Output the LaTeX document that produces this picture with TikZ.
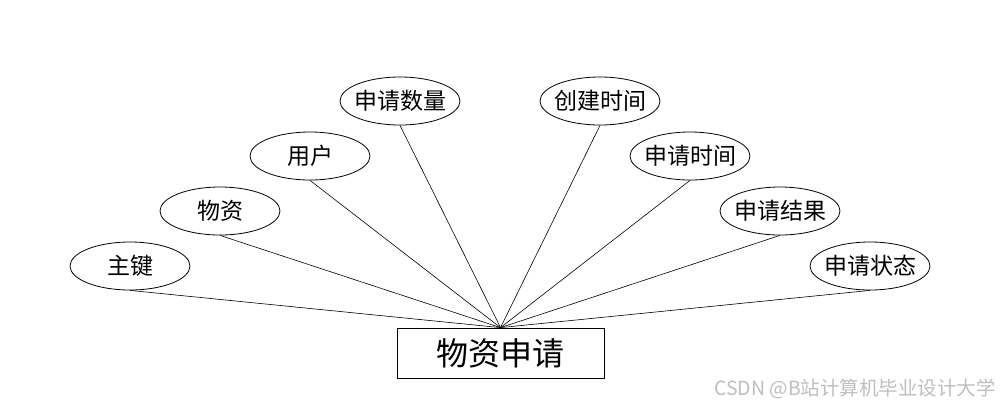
\documentclass[tikz,border=0pt]{standalone}
\usepackage{fontspec}
\newfontfamily\cjk{Noto Sans CJK SC}
\usetikzlibrary{shapes.geometric}
\newcommand{\zw}[1]{\makebox[0pt]{#1}}
\begin{document}
\begin{tikzpicture}[x=1pt,y=-1pt,
  attr/.style={draw=black,line width=0.8pt,ellipse,minimum width=120pt,minimum height=48pt,inner sep=0pt,font=\cjk\fontsize{23}{23}\selectfont},
  ent/.style={draw=black,line width=0.8pt,rectangle,minimum width=207pt,minimum height=50pt,inner sep=0pt,font=\cjk\fontsize{32}{32}\selectfont},
  conn/.style={draw=black,line width=0.6pt}]
\useasboundingbox[fill=white] (0,0) rectangle (1000,408);
\node[ent] (e) at (500.5,353) {物资申请};
\node[attr] (a1) at (130,266) {\zw{主键}};
\node[attr] (a2) at (220,211) {\zw{物资}};
\node[attr] (a3) at (310,156) {\zw{用户}};
\node[attr] (a4) at (400,101) {\zw{申请数量}};
\node[attr] (a5) at (600,101) {\zw{创建时间}};
\node[attr] (a6) at (690,156) {\zw{申请时间}};
\node[attr] (a7) at (780,211) {\zw{申请结果}};
\node[attr] (a8) at (870,266) {\zw{申请状态}};
\foreach \n in {a1,a2,a3,a4,a5,a6,a7,a8}
  \draw[conn] (\n.south) -- (e.north);
\node[anchor=east,text=black!25,font=\cjk\fontsize{19.5}{19.5}\selectfont,inner sep=0pt] (wm) at (996,389) {CSDN @B站计算机毕业设计大学};
\end{tikzpicture}
\end{document}
